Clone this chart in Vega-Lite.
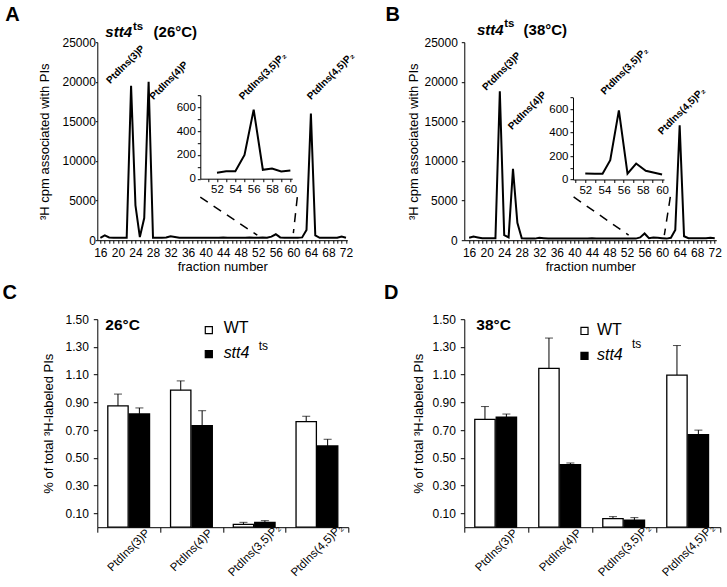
{
  "$schema": "https://vega.github.io/schema/vega-lite/v6.json",
  "background": "white",
  "padding": {"left": 2.3, "top": 5.2, "right": 0, "bottom": 0},
  "config": {
    "font": "Liberation Sans",
    "view": {"stroke": null},
    "axis": {"grid": false, "domainColor": "black", "tickColor": "black", "labelColor": "black", "titleColor": "black", "titleFontWeight": "normal", "labelFontSize": 12, "titleFontSize": 13, "domainWidth": 1, "tickWidth": 1},
    "text": {"color": "black"}
  },
  "datasets": {
    "lineA": [
      {"fraction":16,"cpm":300},{"fraction":17,"cpm":600},{"fraction":18,"cpm":350},{"fraction":19,"cpm":300},{"fraction":20,"cpm":300},{"fraction":21,"cpm":300},{"fraction":22,"cpm":300},{"fraction":23,"cpm":19500},{"fraction":24,"cpm":4400},{"fraction":25,"cpm":400},{"fraction":26,"cpm":2800},{"fraction":27,"cpm":20000},{"fraction":28,"cpm":300},{"fraction":29,"cpm":300},{"fraction":30,"cpm":300},{"fraction":31,"cpm":350},{"fraction":32,"cpm":500},{"fraction":33,"cpm":400},{"fraction":34,"cpm":300},{"fraction":35,"cpm":300},{"fraction":36,"cpm":300},{"fraction":37,"cpm":300},{"fraction":38,"cpm":300},{"fraction":39,"cpm":300},{"fraction":40,"cpm":300},{"fraction":41,"cpm":300},{"fraction":42,"cpm":300},{"fraction":43,"cpm":300},{"fraction":44,"cpm":350},{"fraction":45,"cpm":300},{"fraction":46,"cpm":300},{"fraction":47,"cpm":300},{"fraction":48,"cpm":300},{"fraction":49,"cpm":300},{"fraction":50,"cpm":350},{"fraction":51,"cpm":300},{"fraction":52,"cpm":300},{"fraction":53,"cpm":350},{"fraction":54,"cpm":300},{"fraction":55,"cpm":450},{"fraction":56,"cpm":750},{"fraction":57,"cpm":350},{"fraction":58,"cpm":300},{"fraction":59,"cpm":300},{"fraction":60,"cpm":300},{"fraction":61,"cpm":300},{"fraction":62,"cpm":350},{"fraction":63,"cpm":1300},{"fraction":64,"cpm":16000},{"fraction":65,"cpm":600},{"fraction":66,"cpm":300},{"fraction":67,"cpm":300},{"fraction":68,"cpm":300},{"fraction":69,"cpm":300},{"fraction":70,"cpm":300},{"fraction":71,"cpm":450},{"fraction":72,"cpm":300}
    ],
    "lineB": [
      {"fraction":16,"cpm":300},{"fraction":17,"cpm":450},{"fraction":18,"cpm":350},{"fraction":19,"cpm":250},{"fraction":20,"cpm":250},{"fraction":21,"cpm":250},{"fraction":22,"cpm":250},{"fraction":23,"cpm":18800},{"fraction":24,"cpm":650},{"fraction":25,"cpm":350},{"fraction":26,"cpm":9000},{"fraction":27,"cpm":2200},{"fraction":28,"cpm":250},{"fraction":29,"cpm":200},{"fraction":30,"cpm":200},{"fraction":31,"cpm":200},{"fraction":32,"cpm":300},{"fraction":33,"cpm":250},{"fraction":34,"cpm":200},{"fraction":35,"cpm":200},{"fraction":36,"cpm":200},{"fraction":37,"cpm":200},{"fraction":38,"cpm":200},{"fraction":39,"cpm":200},{"fraction":40,"cpm":200},{"fraction":41,"cpm":200},{"fraction":42,"cpm":200},{"fraction":43,"cpm":200},{"fraction":44,"cpm":250},{"fraction":45,"cpm":200},{"fraction":46,"cpm":200},{"fraction":47,"cpm":200},{"fraction":48,"cpm":200},{"fraction":49,"cpm":200},{"fraction":50,"cpm":200},{"fraction":51,"cpm":200},{"fraction":52,"cpm":200},{"fraction":53,"cpm":200},{"fraction":54,"cpm":200},{"fraction":55,"cpm":350},{"fraction":56,"cpm":850},{"fraction":57,"cpm":250},{"fraction":58,"cpm":350},{"fraction":59,"cpm":300},{"fraction":60,"cpm":250},{"fraction":61,"cpm":200},{"fraction":62,"cpm":300},{"fraction":63,"cpm":1300},{"fraction":64,"cpm":14500},{"fraction":65,"cpm":500},{"fraction":66,"cpm":250},{"fraction":67,"cpm":250},{"fraction":68,"cpm":250},{"fraction":69,"cpm":250},{"fraction":70,"cpm":250},{"fraction":71,"cpm":300},{"fraction":72,"cpm":250}
    ],
    "insetA": [
      {"fraction":52,"cpm":50},{"fraction":53,"cpm":62},{"fraction":54,"cpm":62},{"fraction":55,"cpm":200},{"fraction":56,"cpm":580},{"fraction":57,"cpm":75},{"fraction":58,"cpm":85},{"fraction":59,"cpm":60},{"fraction":60,"cpm":68}
    ],
    "insetB": [
      {"fraction":52,"cpm":52},{"fraction":53,"cpm":50},{"fraction":53.8,"cpm":50},{"fraction":54.6,"cpm":165},{"fraction":55.5,"cpm":590},{"fraction":56.4,"cpm":50},{"fraction":57.3,"cpm":136},{"fraction":58.3,"cpm":75},{"fraction":59.2,"cpm":58},{"fraction":60,"cpm":43}
    ],
    "dashA": [
      {"f1":38.78,"v1":5429,"f2":51.78,"v2":631},
      {"f1":60.9,"v1":5429,"f2":60.0,"v2":884}
    ],
    "dashB": [
      {"f1":39.82,"v1":5467,"f2":52.36,"v2":631},
      {"f1":61.87,"v1":5467,"f2":60.5,"v2":631}
    ],
    "peaksA": [
      {"label":"PtdIns(3)P","f":18.26,"v":19700},
      {"label":"PtdIns(4)P","f":28.14,"v":17676},
      {"label":"PtdIns(3,5)P₂","f":48.52,"v":17676},
      {"label":"PtdIns(4,5)P₂","f":64.02,"v":17676}
    ],
    "peaksB": [
      {"label":"PtdIns(3)P","f":19.92,"v":18850},
      {"label":"PtdIns(4)P","f":25.77,"v":13890},
      {"label":"PtdIns(3,5)P₂","f":46.9,"v":18310},
      {"label":"PtdIns(4,5)P₂","f":59.97,"v":13260}
    ],
    "barsC": [
      {"lipid":"PtdIns(3)P","genotype":"WT","value":0.875,"upper":0.96},
      {"lipid":"PtdIns(3)P","genotype":"stt4ts","value":0.817,"upper":0.86},
      {"lipid":"PtdIns(4)P","genotype":"WT","value":0.988,"upper":1.055},
      {"lipid":"PtdIns(4)P","genotype":"stt4ts","value":0.733,"upper":0.84},
      {"lipid":"PtdIns(3,5)P₂","genotype":"WT","value":0.02,"upper":0.035},
      {"lipid":"PtdIns(3,5)P₂","genotype":"stt4ts","value":0.035,"upper":0.047},
      {"lipid":"PtdIns(4,5)P₂","genotype":"WT","value":0.762,"upper":0.8},
      {"lipid":"PtdIns(4,5)P₂","genotype":"stt4ts","value":0.586,"upper":0.634}
    ],
    "barsD": [
      {"lipid":"PtdIns(3)P","genotype":"WT","value":0.777,"upper":0.87},
      {"lipid":"PtdIns(3)P","genotype":"stt4ts","value":0.794,"upper":0.816},
      {"lipid":"PtdIns(4)P","genotype":"WT","value":1.145,"upper":1.364},
      {"lipid":"PtdIns(4)P","genotype":"stt4ts","value":0.451,"upper":0.463},
      {"lipid":"PtdIns(3,5)P₂","genotype":"WT","value":0.062,"upper":0.076},
      {"lipid":"PtdIns(3,5)P₂","genotype":"stt4ts","value":0.05,"upper":0.069},
      {"lipid":"PtdIns(4,5)P₂","genotype":"WT","value":1.097,"upper":1.31},
      {"lipid":"PtdIns(4,5)P₂","genotype":"stt4ts","value":0.668,"upper":0.7}
    ]
  },
  "columns": 2,
  "bounds": "flush",
  "align": "each",
  "spacing": {"row": 79, "column": 116},
  "concat": [
    {
      "width": 250, "height": 198,
      "layer": [
        {
          "layer": [
            {
              "data": {"name": "lineA"},
              "mark": {"type": "line", "color": "black", "strokeWidth": 2},
              "encoding": {
                "x": {"field": "fraction", "type": "quantitative", "scale": {"domain": [15.3, 72.3], "nice": false, "zero": false},
                  "axis": {"title": "fraction number", "values": [16,17,18,19,20,21,22,23,24,25,26,27,28,29,30,31,32,33,34,35,36,37,38,39,40,41,42,43,44,45,46,47,48,49,50,51,52,53,54,55,56,57,58,59,60,61,62,63,64,65,66,67,68,69,70,71,72], "tickCount": 500, "format": "d", "labelExpr": "datum.value % 4 === 0 ? datum.label : ''", "labelOverlap": false, "labelFlush": false, "tickSize": 3, "labelPadding": 4, "titlePadding": 2}},
                "y": {"field": "cpm", "type": "quantitative", "scale": {"domain": [0, 25000], "nice": false},
                  "axis": {"title": "³H cpm associated with PIs", "values": [0,5000,10000,15000,20000,25000], "tickCount": 500, "labelOverlap": false, "format": "d", "tickSize": 2, "labelPadding": 0, "titlePadding": 10}}
              }
            },
            {
              "data": {"name": "dashA"},
              "mark": {"type": "rule", "color": "black", "strokeWidth": 1.5, "strokeDash": [9, 7]},
              "encoding": {"x": {"field": "f1", "type": "quantitative"}, "y": {"field": "v1", "type": "quantitative"}, "x2": {"field": "f2"}, "y2": {"field": "v2"}}
            },
            {
              "data": {"name": "peaksA"},
              "mark": {"type": "text", "angle": -45, "align": "left", "baseline": "alphabetic", "fontWeight": "bold", "fontSize": 10},
              "encoding": {"x": {"field": "f", "type": "quantitative"}, "y": {"field": "v", "type": "quantitative"}, "text": {"field": "label"}}
            },
            {
              "data": {"values": [{"t": "A"}]},
              "mark": {"type": "text", "align": "left", "baseline": "top", "fontWeight": "bold", "fontSize": 20},
              "encoding": {"x": {"datum": -5.68, "type": "quantitative"}, "y": {"datum": 29646, "type": "quantitative"}, "text": {"field": "t"}}
            },
            {
              "data": {"values": [{"t": "stt4"}]},
              "mark": {"type": "text", "align": "right", "baseline": "alphabetic", "fontWeight": "bold", "fontStyle": "italic", "fontSize": 15},
              "encoding": {"x": {"datum": 23.21, "type": "quantitative"}, "y": {"datum": 25630, "type": "quantitative"}, "text": {"field": "t"}}
            },
            {
              "data": {"values": [{"t": "ts"}]},
              "mark": {"type": "text", "align": "left", "baseline": "alphabetic", "fontWeight": "bold", "fontSize": 11.5},
              "encoding": {"x": {"datum": 23.44, "type": "quantitative"}, "y": {"datum": 26600, "type": "quantitative"}, "text": {"field": "t"}}
            },
            {
              "data": {"values": [{"t": "(26°C)"}]},
              "mark": {"type": "text", "align": "left", "baseline": "alphabetic", "fontWeight": "bold", "fontSize": 15},
              "encoding": {"x": {"datum": 28.14, "type": "quantitative"}, "y": {"datum": 25630, "type": "quantitative"}, "text": {"field": "t"}}
            }
          ]
        },
        {
          "data": {"name": "insetA"},
          "mark": {"type": "line", "color": "black", "strokeWidth": 2},
          "encoding": {
            "x": {"field": "fraction", "type": "quantitative", "scale": {"domain": [50.18, 60.2], "range": [103, 194.9], "nice": false, "zero": false},
              "axis": {"orient": "bottom", "offset": -61.5, "title": null, "values": [51,52,53,54,55,56,57,58,59,60], "tickCount": 500, "format": "d", "labelExpr": "datum.value % 2 === 0 ? datum.label : ''", "labelOverlap": false, "labelFlush": false, "tickSize": 3, "labelPadding": 2, "labelFontSize": 11.5}},
            "y": {"field": "cpm", "type": "quantitative", "scale": {"domain": [0, 700], "range": [136.5, 53.1], "nice": false},
              "axis": {"orient": "left", "offset": -103, "title": null, "values": [0,100,200,300,400,500,600,700], "tickCount": 500, "format": "d", "labelExpr": "datum.value % 200 === 0 ? datum.label : ''", "labelOverlap": false, "labelFlush": false, "tickSize": 3, "labelPadding": 2, "labelFontSize": 11.5}}
          }
        }
      ],
      "resolve": {"scale": {"x": "independent", "y": "independent"}, "axis": {"x": "independent", "y": "independent"}}
    },
    {
      "width": 252, "height": 198,
      "layer": [
        {
          "layer": [
            {
              "data": {"name": "lineB"},
              "mark": {"type": "line", "color": "black", "strokeWidth": 2},
              "encoding": {
                "x": {"field": "fraction", "type": "quantitative", "scale": {"domain": [14.9, 72.35], "nice": false, "zero": false},
                  "axis": {"title": "fraction number", "values": [16,17,18,19,20,21,22,23,24,25,26,27,28,29,30,31,32,33,34,35,36,37,38,39,40,41,42,43,44,45,46,47,48,49,50,51,52,53,54,55,56,57,58,59,60,61,62,63,64,65,66,67,68,69,70,71,72], "tickCount": 500, "format": "d", "labelExpr": "datum.value % 4 === 0 ? datum.label : ''", "labelOverlap": false, "labelFlush": false, "tickSize": 3, "labelPadding": 4, "titlePadding": 2}},
                "y": {"field": "cpm", "type": "quantitative", "scale": {"domain": [0, 25000], "nice": false},
                  "axis": {"title": "³H cpm associated with PIs", "values": [0,5000,10000,15000,20000,25000], "tickCount": 500, "labelOverlap": false, "format": "d", "tickSize": 3, "labelPadding": 4, "titlePadding": 3}}
              }
            },
            {
              "data": {"name": "dashB"},
              "mark": {"type": "rule", "color": "black", "strokeWidth": 1.5, "strokeDash": [9, 7]},
              "encoding": {"x": {"field": "f1", "type": "quantitative"}, "y": {"field": "v1", "type": "quantitative"}, "x2": {"field": "f2"}, "y2": {"field": "v2"}}
            },
            {
              "data": {"name": "peaksB"},
              "mark": {"type": "text", "angle": -45, "align": "left", "baseline": "alphabetic", "fontWeight": "bold", "fontSize": 10},
              "encoding": {"x": {"field": "f", "type": "quantitative"}, "y": {"field": "v", "type": "quantitative"}, "text": {"field": "label"}}
            },
            {
              "data": {"values": [{"t": "B"}]},
              "mark": {"type": "text", "align": "left", "baseline": "top", "fontWeight": "bold", "fontSize": 20},
              "encoding": {"x": {"datum": -3.07, "type": "quantitative"}, "y": {"datum": 29646, "type": "quantitative"}, "text": {"field": "t"}}
            },
            {
              "data": {"values": [{"t": "stt4"}]},
              "mark": {"type": "text", "align": "right", "baseline": "alphabetic", "fontWeight": "bold", "fontStyle": "italic", "fontSize": 15},
              "encoding": {"x": {"datum": 23.86, "type": "quantitative"}, "y": {"datum": 25883, "type": "quantitative"}, "text": {"field": "t"}}
            },
            {
              "data": {"values": [{"t": "ts"}]},
              "mark": {"type": "text", "align": "left", "baseline": "alphabetic", "fontWeight": "bold", "fontSize": 11.5},
              "encoding": {"x": {"datum": 24.02, "type": "quantitative"}, "y": {"datum": 26930, "type": "quantitative"}, "text": {"field": "t"}}
            },
            {
              "data": {"values": [{"t": "(38°C)"}]},
              "mark": {"type": "text", "align": "left", "baseline": "alphabetic", "fontWeight": "bold", "fontSize": 15},
              "encoding": {"x": {"datum": 28.42, "type": "quantitative"}, "y": {"datum": 25883, "type": "quantitative"}, "text": {"field": "t"}}
            }
          ]
        },
        {
          "data": {"name": "insetB"},
          "mark": {"type": "line", "color": "black", "strokeWidth": 2},
          "encoding": {
            "x": {"field": "fraction", "type": "quantitative", "scale": {"domain": [50.72, 60.2], "range": [108.7, 199.7], "nice": false, "zero": false},
              "axis": {"orient": "bottom", "offset": -60.7, "title": null, "values": [51,52,53,54,55,56,57,58,59,60], "tickCount": 500, "format": "d", "labelExpr": "datum.value % 2 === 0 ? datum.label : ''", "labelOverlap": false, "labelFlush": false, "tickSize": 3, "labelPadding": 2, "labelFontSize": 11.5}},
            "y": {"field": "cpm", "type": "quantitative", "scale": {"domain": [0, 700], "range": [137.3, 55.3], "nice": false},
              "axis": {"orient": "left", "offset": -108.7, "title": null, "values": [0,100,200,300,400,500,600,700], "tickCount": 500, "format": "d", "labelExpr": "datum.value % 200 === 0 ? datum.label : ''", "labelOverlap": false, "labelFlush": false, "tickSize": 3, "labelPadding": 2, "labelFontSize": 11.5}}
          }
        }
      ],
      "resolve": {"scale": {"x": "independent", "y": "independent"}, "axis": {"x": "independent", "y": "independent"}}
    },
    {
      "width": 251, "height": 208,
      "layer": [
        {
          "data": {"name": "barsC"},
          "mark": {"type": "bar", "stroke": "black", "strokeWidth": 1.3},
          "encoding": {
            "x": {"field": "lipid", "type": "nominal", "scale": {"domain": ["PtdIns(3)P", "PtdIns(4)P", "PtdIns(3,5)P₂", "PtdIns(4,5)P₂"], "paddingInner": 0, "paddingOuter": 0},
              "axis": {"title": null, "labelAngle": -45, "labelAlign": "center", "labelBaseline": "middle", "tickBand": "extent", "tickSize": 5, "labelPadding": 18, "labelFontSize": 11.5}},
            "xOffset": {"field": "genotype", "type": "nominal", "scale": {"domain": ["WT", "stt4ts"], "paddingInner": 0.05, "paddingOuter": 0.49}},
            "y": {"field": "value", "type": "quantitative", "scale": {"domain": [0, 1.5], "nice": false},
              "axis": {"title": "% of total ³H-labeled PIs", "values": [0.1,0.3,0.5,0.7,0.9,1.1,1.3,1.5], "tickCount": 500, "labelOverlap": false, "format": ".2f", "tickSize": 4, "labelPadding": 5, "titlePadding": 9}},
            "fill": {"field": "genotype", "type": "nominal", "scale": {"domain": ["WT", "stt4ts"], "range": ["white", "black"]}, "legend": null}
          }
        },
        {
          "data": {"name": "barsC"},
          "mark": {"type": "rule", "color": "black", "strokeWidth": 1},
          "encoding": {
            "x": {"field": "lipid", "type": "nominal"},
            "xOffset": {"field": "genotype", "type": "nominal"},
            "y": {"field": "value", "type": "quantitative"},
            "y2": {"field": "upper"}
          }
        },
        {
          "data": {"name": "barsC"},
          "mark": {"type": "tick", "color": "black", "size": 8, "thickness": 1},
          "encoding": {
            "x": {"field": "lipid", "type": "nominal"},
            "xOffset": {"field": "genotype", "type": "nominal", "bandPosition": 0.7},
            "y": {"field": "upper", "type": "quantitative"}
          }
        },
        {
          "data": {"values": [{"t": "C"}]},
          "mark": {"type": "text", "align": "left", "baseline": "top", "fontWeight": "bold", "fontSize": 20, "dx": -126.1},
          "encoding": {"x": {"datum": "PtdIns(3)P", "type": "nominal"}, "y": {"datum": 1.761, "type": "quantitative"}, "text": {"field": "t"}}
        },
        {
          "data": {"values": [{"t": "26°C"}]},
          "mark": {"type": "text", "align": "left", "baseline": "alphabetic", "fontWeight": "bold", "fontSize": 15.5, "dx": -23.4},
          "encoding": {"x": {"datum": "PtdIns(3)P", "type": "nominal"}, "y": {"datum": 1.421, "type": "quantitative"}, "text": {"field": "t"}}
        },
        {
          "data": {"values": [{"g": "WT", "lv": 1.421}, {"g": "stt4ts", "lv": 1.248}]},
          "mark": {"type": "point", "shape": "square", "filled": true, "size": 50, "stroke": "black", "strokeWidth": 1.2, "opacity": 1, "xOffset": 17.4},
          "encoding": {"x": {"datum": "PtdIns(4)P", "type": "nominal"}, "y": {"field": "lv", "type": "quantitative"}, "fill": {"field": "g", "type": "nominal", "legend": null}}
        },
        {
          "data": {"values": [{"t": "WT"}]},
          "mark": {"type": "text", "align": "left", "baseline": "alphabetic", "fontSize": 16, "dx": 32.2},
          "encoding": {"x": {"datum": "PtdIns(4)P", "type": "nominal"}, "y": {"datum": 1.397, "type": "quantitative"}, "text": {"field": "t"}}
        },
        {
          "data": {"values": [{"t": "stt4"}]},
          "mark": {"type": "text", "align": "left", "baseline": "alphabetic", "fontSize": 16, "fontStyle": "italic", "dx": 32.2},
          "encoding": {"x": {"datum": "PtdIns(4)P", "type": "nominal"}, "y": {"datum": 1.217, "type": "quantitative"}, "text": {"field": "t"}}
        },
        {
          "data": {"values": [{"t": "ts"}]},
          "mark": {"type": "text", "align": "left", "baseline": "alphabetic", "fontSize": 12, "dx": 67.2},
          "encoding": {"x": {"datum": "PtdIns(4)P", "type": "nominal"}, "y": {"datum": 1.276, "type": "quantitative"}, "text": {"field": "t"}}
        }
      ]
    },
    {
      "width": 256, "height": 208,
      "layer": [
        {
          "data": {"name": "barsD"},
          "mark": {"type": "bar", "stroke": "black", "strokeWidth": 1.3},
          "encoding": {
            "x": {"field": "lipid", "type": "nominal", "scale": {"domain": ["PtdIns(3)P", "PtdIns(4)P", "PtdIns(3,5)P₂", "PtdIns(4,5)P₂"], "paddingInner": 0, "paddingOuter": 0},
              "axis": {"title": null, "labelAngle": -45, "labelAlign": "center", "labelBaseline": "middle", "tickBand": "extent", "tickSize": 5, "labelPadding": 18, "labelFontSize": 11.5}},
            "xOffset": {"field": "genotype", "type": "nominal", "scale": {"domain": ["WT", "stt4ts"], "paddingInner": 0.05, "paddingOuter": 0.49}},
            "y": {"field": "value", "type": "quantitative", "scale": {"domain": [0, 1.5], "nice": false},
              "axis": {"title": "% of total ³H-labeled PIs", "values": [0.1,0.3,0.5,0.7,0.9,1.1,1.3,1.5], "tickCount": 500, "labelOverlap": false, "format": ".2f", "tickSize": 4, "labelPadding": 5, "titlePadding": 6}},
            "fill": {"field": "genotype", "type": "nominal", "scale": {"domain": ["WT", "stt4ts"], "range": ["white", "black"]}, "legend": null}
          }
        },
        {
          "data": {"name": "barsD"},
          "mark": {"type": "rule", "color": "black", "strokeWidth": 1},
          "encoding": {
            "x": {"field": "lipid", "type": "nominal"},
            "xOffset": {"field": "genotype", "type": "nominal"},
            "y": {"field": "value", "type": "quantitative"},
            "y2": {"field": "upper"}
          }
        },
        {
          "data": {"name": "barsD"},
          "mark": {"type": "tick", "color": "black", "size": 8, "thickness": 1},
          "encoding": {
            "x": {"field": "lipid", "type": "nominal"},
            "xOffset": {"field": "genotype", "type": "nominal", "bandPosition": 0.7},
            "y": {"field": "upper", "type": "quantitative"}
          }
        },
        {
          "data": {"values": [{"t": "D"}]},
          "mark": {"type": "text", "align": "left", "baseline": "top", "fontWeight": "bold", "fontSize": 20, "dx": -112.4},
          "encoding": {"x": {"datum": "PtdIns(3)P", "type": "nominal"}, "y": {"datum": 1.763, "type": "quantitative"}, "text": {"field": "t"}}
        },
        {
          "data": {"values": [{"t": "38°C"}]},
          "mark": {"type": "text", "align": "left", "baseline": "alphabetic", "fontWeight": "bold", "fontSize": 15.5, "dx": -20},
          "encoding": {"x": {"datum": "PtdIns(3)P", "type": "nominal"}, "y": {"datum": 1.421, "type": "quantitative"}, "text": {"field": "t"}}
        },
        {
          "data": {"values": [{"g": "WT", "lv": 1.415}, {"g": "stt4ts", "lv": 1.235}]},
          "mark": {"type": "point", "shape": "square", "filled": true, "size": 50, "stroke": "black", "strokeWidth": 1.2, "opacity": 1, "xOffset": 24.2},
          "encoding": {"x": {"datum": "PtdIns(4)P", "type": "nominal"}, "y": {"field": "lv", "type": "quantitative"}, "fill": {"field": "g", "type": "nominal", "legend": null}}
        },
        {
          "data": {"values": [{"t": "WT"}]},
          "mark": {"type": "text", "align": "left", "baseline": "alphabetic", "fontSize": 16, "dx": 36.7},
          "encoding": {"x": {"datum": "PtdIns(4)P", "type": "nominal"}, "y": {"datum": 1.385, "type": "quantitative"}, "text": {"field": "t"}}
        },
        {
          "data": {"values": [{"t": "stt4"}]},
          "mark": {"type": "text", "align": "left", "baseline": "alphabetic", "fontSize": 16, "fontStyle": "italic", "dx": 36.7},
          "encoding": {"x": {"datum": "PtdIns(4)P", "type": "nominal"}, "y": {"datum": 1.209, "type": "quantitative"}, "text": {"field": "t"}}
        },
        {
          "data": {"values": [{"t": "ts"}]},
          "mark": {"type": "text", "align": "left", "baseline": "alphabetic", "fontSize": 12, "dx": 71.7},
          "encoding": {"x": {"datum": "PtdIns(4)P", "type": "nominal"}, "y": {"datum": 1.289, "type": "quantitative"}, "text": {"field": "t"}}
        }
      ]
    }
  ]
}
